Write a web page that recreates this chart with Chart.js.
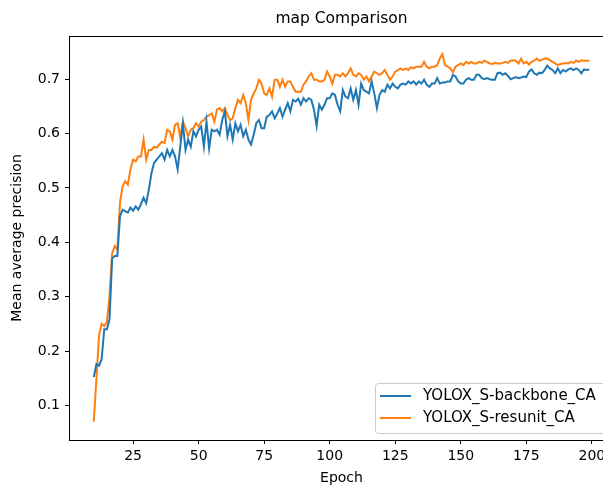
<!DOCTYPE html>
<html>
<head>
<meta charset="utf-8">
<script src="https://cdn.jsdelivr.net/npm/chart.js@4"></script>
<style>
  html, body { margin: 0; padding: 0; background: #fff; overflow: hidden; }
  #wrap { width: 603px; height: 487px; overflow: hidden; }
  canvas { display: block; }
</style>
</head>
<body>
<div id="wrap"><canvas id="mapChart" width="614" height="487"></canvas></div>
<script>
// epochs start at 10, one value per epoch
const firstEpoch = 10;

const backboneCA = [
  0.152, 0.176, 0.173, 0.185, 0.240, 0.240, 0.258, 0.370, 0.375, 0.375,
  0.448, 0.460, 0.457, 0.455, 0.464, 0.458, 0.466, 0.460, 0.470, 0.482,
  0.472, 0.497, 0.527, 0.546, 0.552, 0.558, 0.564, 0.552, 0.570, 0.558,
  0.570, 0.558, 0.534, 0.576, 0.619, 0.570, 0.589, 0.576, 0.604, 0.595,
  0.607, 0.613, 0.576, 0.622, 0.573, 0.607, 0.604, 0.607, 0.598, 0.625,
  0.641, 0.595, 0.616, 0.589, 0.619, 0.604, 0.616, 0.595, 0.607, 0.589,
  0.580, 0.598, 0.619, 0.625, 0.610, 0.610, 0.631, 0.634, 0.641, 0.628,
  0.637, 0.647, 0.631, 0.644, 0.656, 0.641, 0.662, 0.659, 0.664, 0.653,
  0.665, 0.659, 0.665, 0.662, 0.644, 0.614, 0.653, 0.644, 0.653, 0.665,
  0.665, 0.674, 0.671, 0.653, 0.641, 0.680, 0.668, 0.665, 0.683, 0.662,
  0.680, 0.653, 0.692, 0.680, 0.677, 0.674, 0.696, 0.674, 0.647, 0.671,
  0.680, 0.677, 0.690, 0.683, 0.692, 0.686, 0.683, 0.690, 0.692, 0.690,
  0.696, 0.692, 0.696, 0.690, 0.696, 0.692, 0.699, 0.690, 0.686, 0.692,
  0.692, 0.702, 0.692, 0.694, 0.694, 0.696, 0.696, 0.708, 0.705, 0.696,
  0.692, 0.692, 0.699, 0.702, 0.699, 0.699, 0.708, 0.708, 0.702, 0.700,
  0.702, 0.700, 0.699, 0.699, 0.711, 0.712, 0.708, 0.711, 0.706, 0.700,
  0.702, 0.704, 0.702, 0.703, 0.705, 0.704, 0.714, 0.718, 0.711, 0.708,
  0.712, 0.711, 0.717, 0.725, 0.720, 0.717, 0.711, 0.720, 0.711, 0.717,
  0.714, 0.718, 0.720, 0.717, 0.720, 0.717, 0.711, 0.718, 0.717, 0.718
];

const resunitCA = [
  0.070, 0.148, 0.228, 0.250, 0.246, 0.253, 0.300, 0.380, 0.393, 0.387,
  0.473, 0.503, 0.512, 0.506, 0.534, 0.552, 0.549, 0.558, 0.558, 0.589,
  0.552, 0.570, 0.570, 0.576, 0.574, 0.580, 0.585, 0.583, 0.607, 0.604,
  0.589, 0.616, 0.619, 0.592, 0.622, 0.610, 0.595, 0.607, 0.610, 0.619,
  0.613, 0.622, 0.625, 0.631, 0.634, 0.637, 0.622, 0.644, 0.647, 0.641,
  0.647, 0.634, 0.625, 0.628, 0.647, 0.662, 0.656, 0.671, 0.656, 0.625,
  0.662, 0.674, 0.683, 0.699, 0.692, 0.674, 0.671, 0.683, 0.668, 0.699,
  0.699, 0.686, 0.699, 0.686, 0.696, 0.696, 0.686, 0.677, 0.677, 0.677,
  0.690, 0.696, 0.705, 0.711, 0.699, 0.699, 0.696, 0.696, 0.699, 0.714,
  0.705, 0.692, 0.708, 0.708, 0.705, 0.711, 0.705, 0.711, 0.720, 0.708,
  0.705, 0.711, 0.708, 0.699, 0.705, 0.696, 0.705, 0.714, 0.711, 0.708,
  0.711, 0.717, 0.708, 0.699, 0.705, 0.714, 0.717, 0.720, 0.717, 0.720,
  0.717, 0.722, 0.720, 0.723, 0.723, 0.723, 0.732, 0.723, 0.720, 0.723,
  0.723, 0.726, 0.738, 0.746, 0.726, 0.723, 0.720, 0.713, 0.723, 0.726,
  0.729, 0.726, 0.732, 0.729, 0.732, 0.729, 0.729, 0.732, 0.730, 0.734,
  0.732, 0.729, 0.728, 0.730, 0.729, 0.729, 0.730, 0.732, 0.730, 0.734,
  0.735, 0.734, 0.729, 0.738, 0.729, 0.732, 0.727, 0.732, 0.734, 0.738,
  0.734, 0.736, 0.738, 0.738, 0.735, 0.732, 0.729, 0.726, 0.728, 0.729,
  0.730, 0.729, 0.732, 0.730, 0.734, 0.732, 0.735, 0.734, 0.734, 0.734
];

const xTicks = [25, 50, 75, 100, 125, 150, 175, 200];
const yTicks = [0.1, 0.2, 0.3, 0.4, 0.5, 0.6, 0.7];

const FONT = "'DejaVu Sans', sans-serif";

function toPoints(values) {
  return values.map((v, i) => ({ x: firstEpoch + i, y: v }));
}

// matplotlib style box around the axes, drawn over the lines
const frame = {
  id: 'frame',
  afterDatasetsDraw(chart) {
    const { ctx, chartArea: a } = chart;
    ctx.save();
    ctx.strokeStyle = '#000';
    ctx.lineWidth = 1;
    ctx.strokeRect(Math.round(a.left) + 0.5, Math.round(a.top) + 0.5,
                   Math.round(a.right - a.left), Math.round(a.bottom - a.top));
    ctx.restore();
  }
};

// legend box in the lower right corner of the axes
const cornerLegend = {
  id: 'cornerLegend',
  afterDraw(chart) {
    const { ctx, chartArea: a } = chart;
    const sets = chart.data.datasets;
    const right = a.right - 7, bottom = a.bottom - 7;
    const left = 375, top = bottom - 50;
    ctx.save();
    ctx.beginPath();
    ctx.roundRect(left + 0.5, top + 0.5, right - left, bottom - top, 3);
    ctx.fillStyle = 'rgba(255,255,255,0.8)';
    ctx.fill();
    ctx.strokeStyle = '#cccccc';
    ctx.lineWidth = 1;
    ctx.stroke();
    ctx.font = '15px ' + FONT;
    ctx.textBaseline = 'middle';
    sets.forEach((ds, i) => {
      const y = top + 13 + i * 22;
      ctx.beginPath();
      ctx.moveTo(left + 5, y);
      ctx.lineTo(left + 36, y);
      ctx.strokeStyle = ds.borderColor;
      ctx.lineWidth = 2;
      ctx.stroke();
      ctx.fillStyle = '#000';
      ctx.fillText(ds.label, left + 48, y);
    });
    ctx.restore();
  }
};

new Chart(document.getElementById('mapChart'), {
  type: 'line',
  data: {
    datasets: [
      {
        label: 'YOLOX_S-backbone_CA',
        data: toPoints(backboneCA),
        borderColor: '#1f77b4',
        borderWidth: 2,
        pointRadius: 0,
        tension: 0
      },
      {
        label: 'YOLOX_S-resunit_CA',
        data: toPoints(resunitCA),
        borderColor: '#ff7f0e',
        borderWidth: 2,
        pointRadius: 0,
        tension: 0
      }
    ]
  },
  options: {
    responsive: false,
    animation: false,
    layout: { padding: 0 },
    plugins: {
      legend: { display: false },
      tooltip: { enabled: false },
      title: {
        display: true,
        fullSize: false,
        text: 'map Comparison',
        color: '#000',
        font: { family: FONT, size: 15.5, weight: 'normal' },
        padding: { top: 10, bottom: 7.4 }
      }
    },
    scales: {
      x: {
        type: 'linear',
        min: 0.55,
        max: 208.45,
        afterFit(scale) { scale.height = 47; },
        afterBuildTicks(scale) { scale.ticks = xTicks.map(v => ({ value: v })); },
        grid: { drawOnChartArea: false, drawTicks: true, tickLength: 4, tickColor: '#000', tickWidth: 1 },
        border: { display: false },
        ticks: { color: '#000', font: { family: FONT, size: 14 }, padding: 4, maxRotation: 0 },
        title: {
          display: true,
          text: 'Epoch',
          color: '#000',
          font: { family: FONT, size: 14 },
          padding: { top: 0, bottom: 0 }
        }
      },
      y: {
        type: 'linear',
        min: 0.0363,
        max: 0.7795,
        afterFit(scale) { scale.width = 69; },
        afterBuildTicks(scale) { scale.ticks = yTicks.map(v => ({ value: v })); },
        grid: { drawOnChartArea: false, drawTicks: true, tickLength: 4, tickColor: '#000', tickWidth: 1 },
        border: { display: false },
        ticks: {
          color: '#000',
          font: { family: FONT, size: 14 },
          padding: 5,
          callback: v => v.toFixed(1)
        },
        title: {
          display: true,
          text: 'Mean average precision',
          color: '#000',
          font: { family: FONT, size: 14 },
          padding: { top: 9, bottom: 0 }
        }
      }
    }
  },
  plugins: [frame, cornerLegend]
});
</script>
</body>
</html>
